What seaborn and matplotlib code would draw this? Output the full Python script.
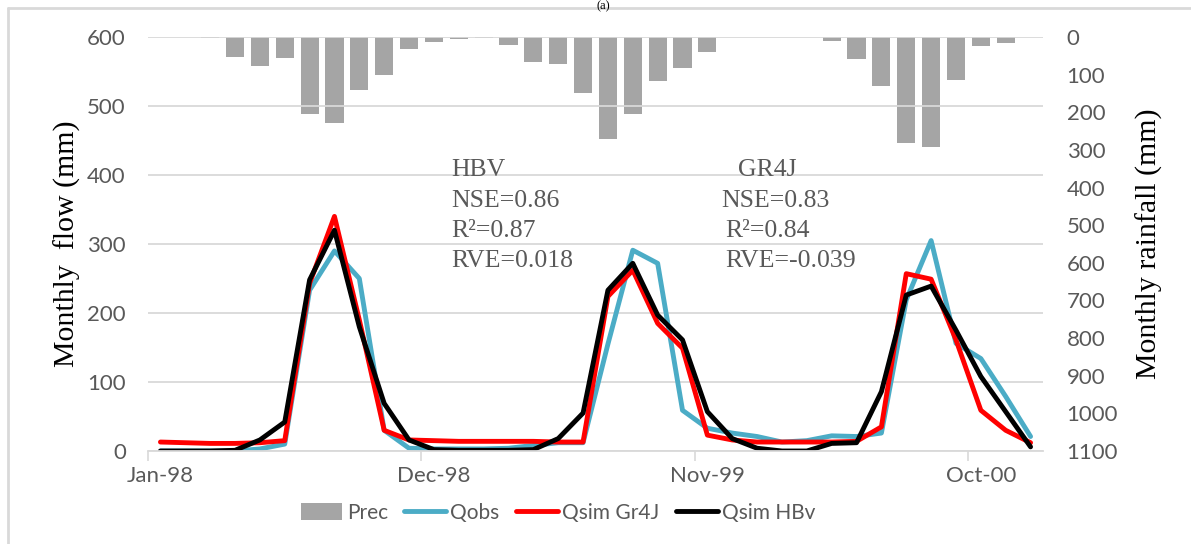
import numpy as np
import pandas as pd
import matplotlib
matplotlib.use("Agg")
import matplotlib.pyplot as plt
import seaborn as sns
from matplotlib.patches import Patch
from matplotlib.lines import Line2D

months = ["Jan-98", "Feb-98", "Mar-98", "Apr-98", "May-98", "Jun-98", "Jul-98", "Aug-98", "Sep-98",
          "Oct-98", "Nov-98", "Dec-98", "Jan-99", "Feb-99", "Mar-99", "Apr-99", "May-99", "Jun-99",
          "Jul-99", "Aug-99", "Sep-99", "Oct-99", "Nov-99", "Dec-99", "Jan-00", "Feb-00", "Mar-00",
          "Apr-00", "May-00", "Jun-00", "Jul-00", "Aug-00", "Sep-00", "Oct-00", "Nov-00", "Dec-00"]
prec = [0, 1, 2, 54, 77, 55, 205, 229, 140, 101, 31, 14, 4, 2, 21, 67, 73, 148,
        272, 205, 118, 83, 40, 1, 0, 1, 1, 11, 59, 129, 281, 291, 113, 24, 15, 1]
qobs = [0, 0, 0, 0, 3, 10, 233, 290, 250, 30, 4, 3, 3, 3, 4, 8, 12, 12,
        155, 291, 272, 59, 33, 26, 21, 13, 15, 22, 21, 26, 219, 305, 156, 134, 79, 21]
qsim_gr4j = [13, 12, 11, 11, 12, 15, 243, 340, 190, 30, 16, 15, 14, 14, 14, 14, 13, 13,
             224, 262, 185, 149, 23, 16, 13, 13, 13, 13, 14, 35, 257, 249, 161, 59, 30, 12]
qsim_hbv = [0, 0, 0, 1, 16, 42, 248, 320, 180, 69, 16, 2, 1, 1, 1, 2, 18, 55,
            233, 272, 197, 161, 57, 18, 4, 0, 0, 11, 12, 86, 226, 239, 175, 108, 57, 6]
xtick_labels = ["Jan-98", "Dec-98", "Nov-99", "Oct-00"]
flow_ticks = [0, 100, 200, 300, 400, 500, 600]
rain_ticks = list(range(0, 1101, 100))

sns.set_theme(style="white")
plt.rcParams['font.family'] = ['Lato', 'DejaVu Sans']

idx = np.arange(len(months))
df = pd.DataFrame({"i": idx, "prec": prec, "qobs": qobs, "gr4j": qsim_gr4j, "hbv": qsim_hbv})

fig = plt.figure(figsize=(11.91, 5.44), dpi=100)
ax = fig.add_axes([148/1191, 1-451/544, (1043-148)/1191, (451-37)/544])
ax2 = ax.twinx()
ax.set_zorder(ax2.get_zorder() + 1)
ax.patch.set_visible(False)

GRAY_TXT = "#595959"
GRID = "#D9D9D9"
FS = 16

sns.barplot(data=df, x="i", y="prec", ax=ax2, color="#A5A5A5", width=0.73,
            saturation=1, edgecolor="none", native_scale=True)
ax2.set_ylim(1100, 0)
ax2.set_yticks(rain_ticks)
ax2.set_ylabel("Monthly rainfall (mm)", family="Liberation Serif", fontsize=21.5, color="black", labelpad=13)

lw = 3.5
sns.lineplot(data=df, x="i", y="qobs", ax=ax, color="#4BACC6", lw=lw, legend=False)
sns.lineplot(data=df, x="i", y="gr4j", ax=ax, color="#FF0000", lw=lw, legend=False)
sns.lineplot(data=df, x="i", y="hbv", ax=ax, color="#000000", lw=lw, legend=False)

ax.set_ylim(0, 600)
ax.set_yticks(flow_ticks)
ax.set_xlim(-0.5, 35.5)
ax2.set_xlim(-0.5, 35.5)
ax.set_ylabel("Monthly  flow (mm)", family="Liberation Serif", fontsize=21.5, color="black", labelpad=4)
ax.set_xlabel("")
ax2.set_xlabel("")

tick_pos = [months.index(m) for m in xtick_labels]
ax.set_xticks(tick_pos)
ax.set_xticklabels(xtick_labels)
ax.set_xticks([p - 0.5 for p in tick_pos], minor=True)
ax.tick_params(axis="x", which="major", length=0, pad=11, labelsize=FS, labelcolor=GRAY_TXT)
ax.tick_params(axis="x", which="minor", length=7, width=1.2, color=GRID, bottom=True)
ax.tick_params(axis="y", length=0, pad=16, labelsize=FS, labelcolor=GRAY_TXT)
ax2.tick_params(axis="y", length=0, pad=17, labelsize=FS, labelcolor=GRAY_TXT)
ax2.tick_params(axis="x", length=0, labelbottom=False)

ax.grid(axis="y", color=GRID, lw=1.3)
ax.grid(axis="x", visible=False)
ax2.grid(False)
for a in (ax, ax2):
    for s in a.spines.values():
        s.set_visible(False)
ax.spines["bottom"].set_visible(True)
ax.spines["bottom"].set_color(GRID)
ax.spines["bottom"].set_linewidth(1.3)

serif = dict(family="Liberation Serif", fontsize=18.5, color=GRAY_TXT, va="center", ha="left")
fig.text(451/1191, 1-170/544, "HBV", **serif)
fig.text(451/1191, 1-201/544, "NSE=0.86", **serif)
fig.text(451/1191, 1-231/544, "R²=0.87", **serif)
fig.text(451/1191, 1-261/544, "RVE=0.018", **serif)
fig.text(738/1191, 1-170/544, "GR4J", **serif)
fig.text(721/1191, 1-201/544, "NSE=0.83", **serif)
fig.text(725/1191, 1-231/544, "R²=0.84", **serif)
fig.text(725/1191, 1-261/544, "RVE=-0.039", **serif)

fig.text(603/1191, 1.0, "(a)", family="Liberation Serif", fontsize=9, color="black", ha="center", va="top")

# outer frame
fig.add_artist(Line2D([8/1191, 8/1191], [0, 1-8/544], color=GRID, lw=2, transform=fig.transFigure))
fig.add_artist(Line2D([8/1191, 1], [1-8/544, 1-8/544], color=GRID, lw=2, transform=fig.transFigure))

handles = [Patch(facecolor="#A5A5A5", edgecolor="none"),
           Line2D([], [], color="#4BACC6", lw=lw, solid_capstyle="round"),
           Line2D([], [], color="#FF0000", lw=lw, solid_capstyle="round"),
           Line2D([], [], color="#000000", lw=lw, solid_capstyle="round")]
labels = ["Prec", "Qobs", "Qsim Gr4J", "Qsim HBv"]
fig.legend(handles, labels, loc="center", bbox_to_anchor=(558/1191, 1-513/544), ncol=4, frameon=False,
           fontsize=15, labelcolor=GRAY_TXT, handlelength=2.0, handletextpad=0.2, columnspacing=0.8,
           handleheight=0.9)

fig.savefig("out.png", dpi=100)
